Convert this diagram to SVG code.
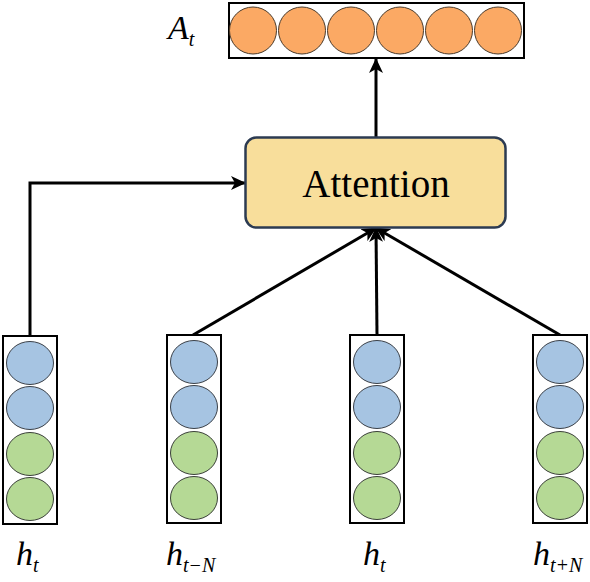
<svg xmlns="http://www.w3.org/2000/svg" width="590" height="582" viewBox="0 0 590 582">
<style>
.frame{fill:#fff;stroke:#000;stroke-width:2}
.o{fill:#FBA964;stroke:#4a3a2a;stroke-width:1}
.b{fill:#A6C4E2;stroke:#3a4048;stroke-width:1}
.g{fill:#B5D995;stroke:#3a4038;stroke-width:1}
.lbl{font-family:Liberation Serif, serif;font-style:italic;fill:#000}
.edge{fill:none;stroke:#000;stroke-width:3}
</style>
<defs>
<marker id="arr" markerUnits="userSpaceOnUse" markerWidth="16" markerHeight="14" refX="14" refY="7" orient="auto">
<path d="M0,0 L15,7 L0,14 L4,7 z" fill="#000"/>
</marker>
<g id="vec">
<rect class="frame" x="-27" y="0" width="54" height="188"/>
<ellipse class="b" cx="0" cy="27" rx="23.5" ry="21.5"/>
<ellipse class="b" cx="0" cy="72" rx="23.5" ry="21.5"/>
<ellipse class="g" cx="0" cy="118" rx="23.5" ry="21.5"/>
<ellipse class="g" cx="0" cy="163" rx="23.5" ry="21.5"/>
</g>
</defs>
<rect width="590" height="582" fill="#fff"/>
<g id="connectors">
<polyline class="edge" points="30,336 30,183 245,183" marker-end="url(#arr)"/>
<line class="edge" x1="193" y1="335" x2="376" y2="228" marker-end="url(#arr)"/>
<line class="edge" x1="377" y1="335" x2="376" y2="228" marker-end="url(#arr)"/>
<line class="edge" x1="560" y1="335" x2="376" y2="228" marker-end="url(#arr)"/>
<line class="edge" x1="376" y1="137" x2="376" y2="59" marker-end="url(#arr)"/>
</g>
<g id="output">
<rect class="frame" x="229" y="3" width="295" height="55"/>
<circle class="o" cx="253" cy="30.5" r="23.5"/>
<circle class="o" cx="302" cy="30.5" r="23.5"/>
<circle class="o" cx="351" cy="30.5" r="23.5"/>
<circle class="o" cx="400" cy="30.5" r="23.5"/>
<circle class="o" cx="449" cy="30.5" r="23.5"/>
<circle class="o" cx="498" cy="30.5" r="23.5"/>
<text class="lbl" x="168" y="39" font-size="34">A<tspan font-size="20" dy="7">t</tspan></text>
</g>
<g id="attention">
<rect x="245.5" y="137.5" width="260" height="90" rx="11" fill="#F8DE9B" stroke="#2C3B52" stroke-width="2.5"/>
<text x="376" y="197" font-family="Liberation Serif, serif" font-size="39" text-anchor="middle" fill="#000">Attention</text>
</g>
<g id="h1">
<use href="#vec" x="30" y="336"/>
<text class="lbl" x="16" y="565" font-size="34">h<tspan font-size="20" dy="7">t</tspan></text>
</g>
<g id="h2">
<use href="#vec" x="194" y="335"/>
<text class="lbl" x="166" y="565" font-size="34">h<tspan font-size="20" dy="7">t−N</tspan></text>
</g>
<g id="h3">
<use href="#vec" x="377" y="335"/>
<text class="lbl" x="363" y="565" font-size="34">h<tspan font-size="20" dy="7">t</tspan></text>
</g>
<g id="h4">
<use href="#vec" x="560" y="335"/>
<text class="lbl" x="533" y="565" font-size="34">h<tspan font-size="20" dy="7">t+N</tspan></text>
</g>
</svg>
